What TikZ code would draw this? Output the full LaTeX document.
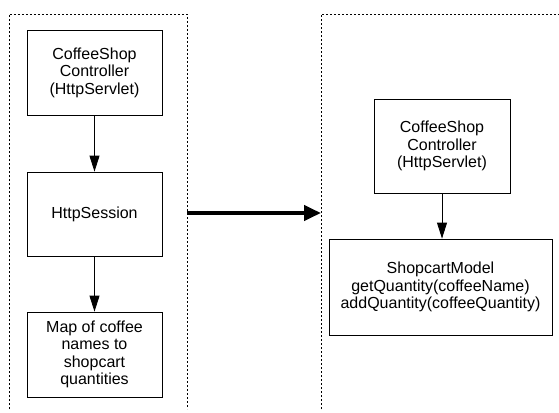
\documentclass[tikz,border=0pt]{standalone}
\usepackage{fontspec}
\setmainfont{Liberation Sans}
\usetikzlibrary{arrows.meta, positioning}

\tikzset{
	box/.style={draw, line width=.8pt, align=center, inner sep=0pt, font=\fontsize{16pt}{17.5pt}\selectfont},
	flow/.style={line width=.8pt, -{Triangle[length=16pt,width=10pt]}},
	frame/.style={line width=.8pt, dash pattern=on 2pt off 2pt}
}

\begin{document}
\begin{tikzpicture}[x=1pt, y=1pt]
				\useasboundingbox (0,0) rectangle (559,-412);
				\draw[frame] (9,-409) -- (9,-14) -- (187,-14) -- (187,-409);
				\draw[frame] (321,-409) -- (321,-14) -- (559,-14);
				\node[box, minimum width=135pt, minimum height=85pt] (ctrlL) at (94.5,-72.5) {CoffeeShop\\Controller\\(HttpServlet)};
				\node[box, minimum width=135pt, minimum height=84pt] (session) at (94.5,-214) {HttpSession};
				\node[box, minimum width=135pt, minimum height=85pt] (coffeemap) at (94.5,-354.5) {Map of coffee\\names to\\shopcart\\quantities};
				\draw[flow] (ctrlL) -- (session);
				\draw[flow] (session) -- (coffeemap);
				\node[box, minimum width=136pt, minimum height=94pt] (ctrlR) at (442,-146) {CoffeeShop\\Controller\\(HttpServlet)};
				\node[box, minimum width=223pt, minimum height=96pt] (model) at (440.5,-287) {ShopcartModel\\getQuantity(coffeeName)\\addQuantity(coffeeQuantity)};
				\draw[flow] (ctrlR.south) -- (ctrlR.south |- model.north);
				\coordinate (sendL) at (187,-213);
				\coordinate (sendR) at (321,-213);
				\draw[line width=4pt, -{Triangle[length=17pt,width=15pt]}] (sendL) -- (sendR);
			\end{tikzpicture}
\end{document}
